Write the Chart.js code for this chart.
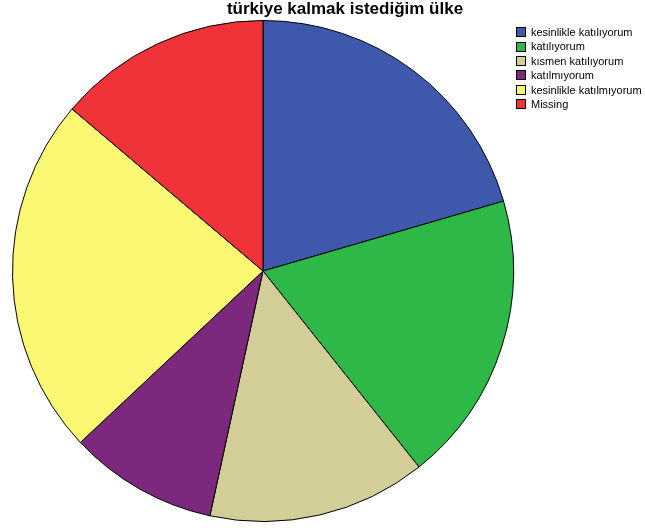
<!DOCTYPE html>
<html>
<head>
<meta charset="utf-8">
<script src="https://cdn.jsdelivr.net/npm/chart.js@4/dist/chart.umd.min.js"></script>
<style>
  html, body { margin: 0; padding: 0; background: #fff; }
  #wrap { position: relative; width: 645px; height: 531px; overflow: hidden; }
  #title { position: absolute; left: 0; width: 690px; top: -1px; text-align: center;
    font: bold 17px "Liberation Sans", Arial, sans-serif; color: #000; white-space: nowrap; }
  #legend { position: absolute; left: 516px; top: 25px; font: 11px "Liberation Sans", Arial, sans-serif; color: #000; }
  #legend .row { height: 14.4px; line-height: 14.4px; white-space: nowrap; display: flex; align-items: center; }
  #legend .box { width: 8px; height: 8px; border: 1px solid #000; margin-right: 5px; flex: none; }
  canvas { position: absolute; left: 0; top: 0; }
</style>
</head>
<body>
<div id="wrap">
  <canvas id="c" width="645" height="531"></canvas>
  <div id="title"></div>
  <div id="legend"></div>
</div>
<script>
const chartTitle = "türkiye kalmak istediğim ülke";
const categories = ["kesinlikle katılıyorum", "katılıyorum", "kısmen katılıyorum", "katılmıyorum", "kesinlikle katılmıyorum", "Missing"];
const percents = [20.5, 18.8, 14.1, 9.6, 23.2, 13.8];
const colors = ["#3E58AC", "#2EB848", "#D3CE97", "#7C287D", "#FBF873", "#EF3338"];

document.getElementById('title').textContent = chartTitle;
const leg = document.getElementById('legend');
categories.forEach((c, i) => {
  const row = document.createElement('div');
  row.className = 'row';
  const b = document.createElement('span');
  b.className = 'box';
  b.style.background = colors[i];
  const t = document.createElement('span');
  t.textContent = c;
  row.appendChild(b); row.appendChild(t);
  leg.appendChild(row);
});

new Chart(document.getElementById('c'), {
  type: 'pie',
  data: {
    labels: categories,
    datasets: [{
      data: percents,
      backgroundColor: colors,
      borderColor: '#000',
      borderWidth: 1
    }]
  },
  options: {
    responsive: false,
    animation: false,
    layout: { padding: { left: 12, right: 131, top: 20, bottom: 9 } },
    plugins: { legend: { display: false }, title: { display: false }, tooltip: { enabled: false } }
  }
});
</script>
</body>
</html>
